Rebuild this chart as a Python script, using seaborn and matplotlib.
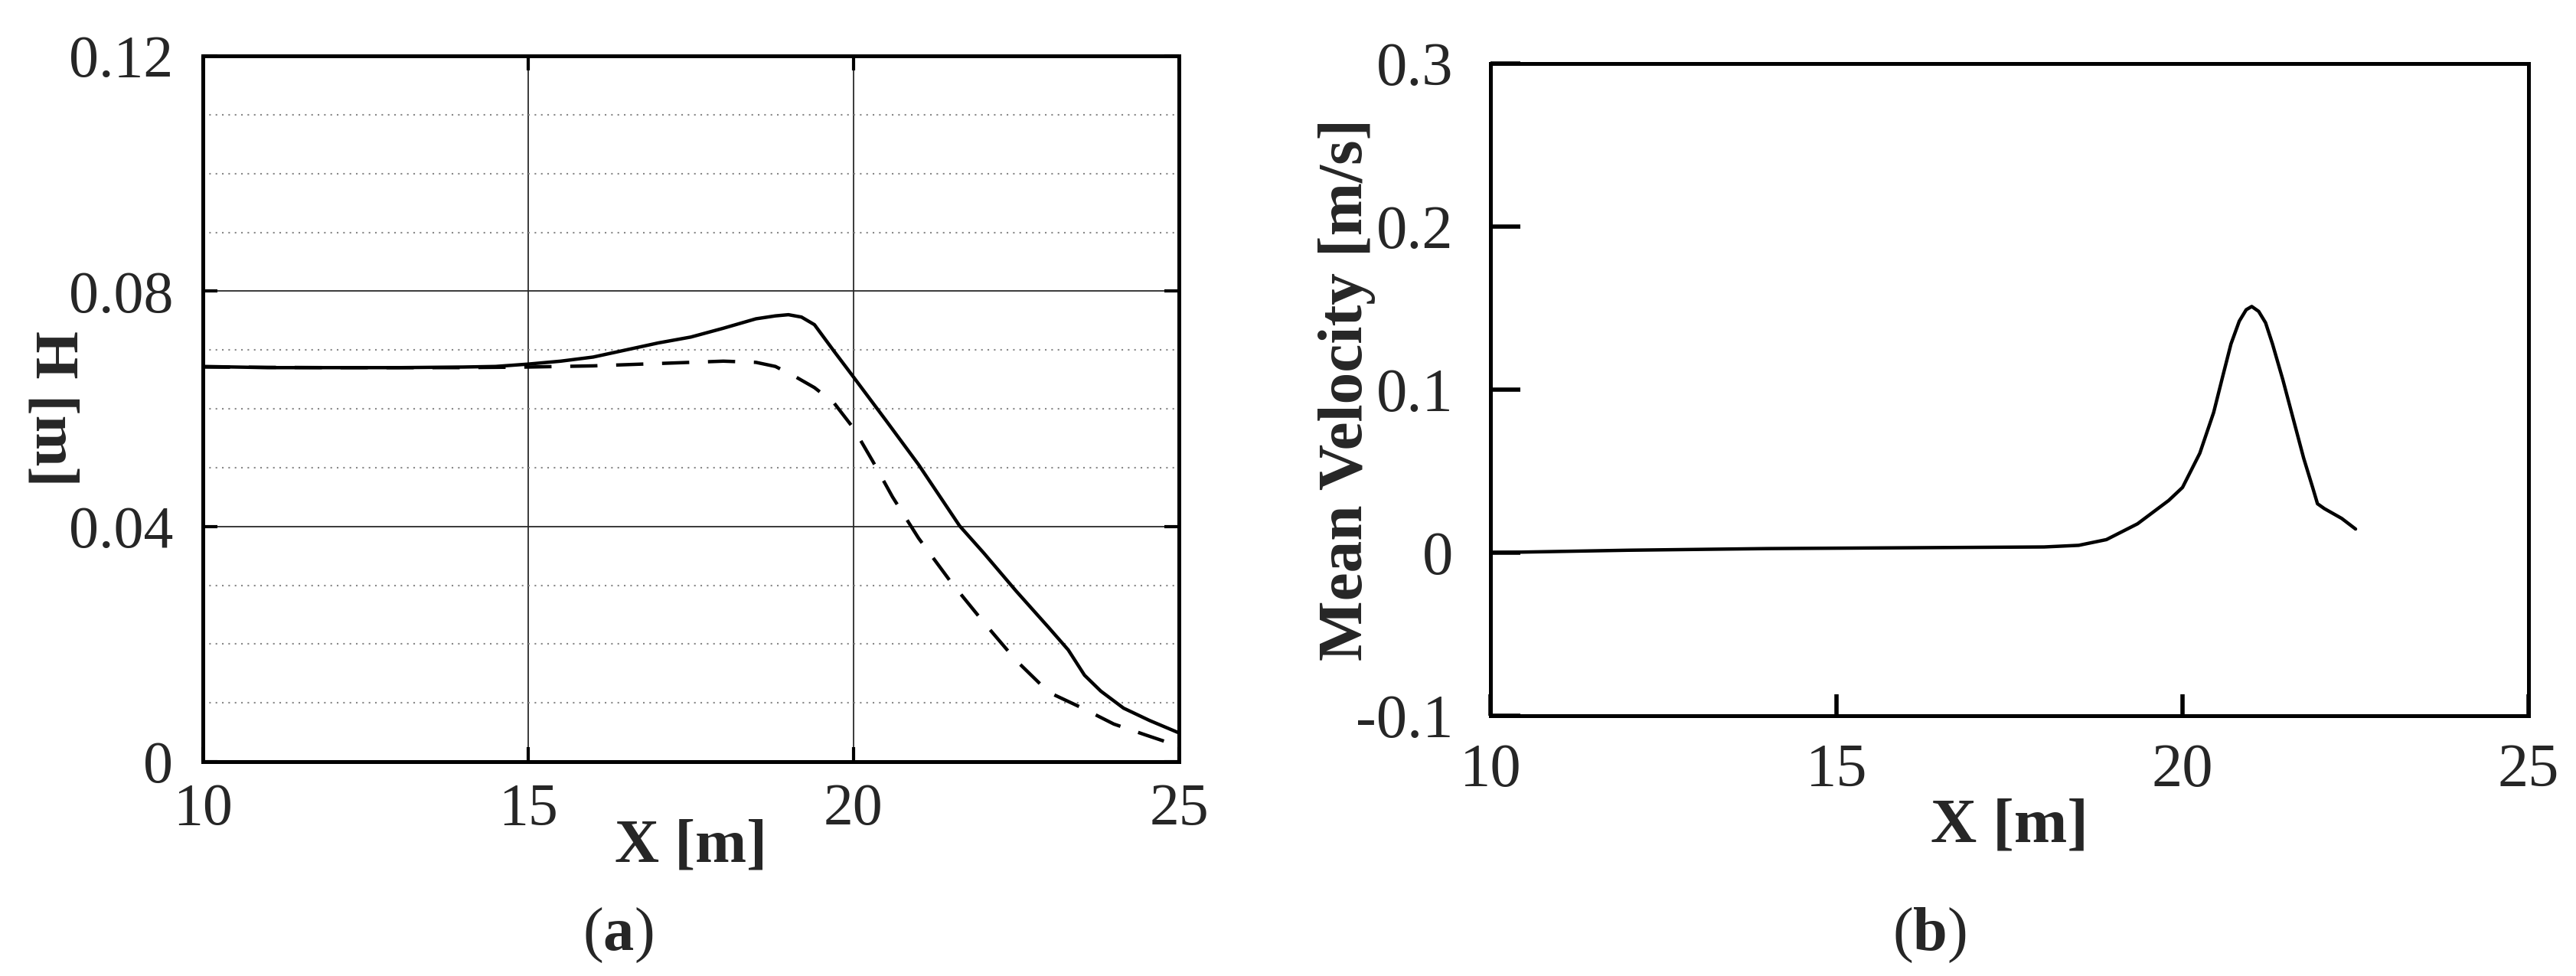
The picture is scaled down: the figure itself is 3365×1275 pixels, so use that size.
import numpy as np
import matplotlib
matplotlib.use("Agg")
import matplotlib.pyplot as plt
import seaborn as sns
from matplotlib.ticker import MultipleLocator

# ---- data ----
# (a) water depth H along the flume, solid and dashed curves
x_solid = [10, 11, 12, 13, 14, 14.5, 15, 15.5, 16, 16.5, 17, 17.5, 18, 18.5,
           18.8, 19.0, 19.2, 19.4, 19.7, 20.0, 20.5, 21.0, 21.63, 22.0, 22.5,
           23.0, 23.3, 23.55, 23.8, 24.15, 24.55, 25.0]
h_solid = [0.0672, 0.0670, 0.0670, 0.0670, 0.0671, 0.0672, 0.0676, 0.0681,
           0.0688, 0.0700, 0.0712, 0.0722, 0.0737, 0.0753, 0.0758, 0.0760,
           0.0756, 0.0743, 0.0698, 0.0654, 0.0580, 0.0505, 0.0401, 0.0355,
           0.0290, 0.0228, 0.0190, 0.0147, 0.0120, 0.0091, 0.0070, 0.0049]

x_dash = [10, 12, 14, 15, 16, 17, 18, 18.5, 18.8, 19.1, 19.4, 19.7, 20.0,
          20.3, 20.6, 21.0, 21.5, 22.0, 22.5, 23.0, 23.5, 24.0, 24.5, 24.85]
h_dash = [0.0671, 0.0670, 0.0670, 0.0671, 0.0673, 0.0677, 0.0681, 0.0679,
          0.0672, 0.0655, 0.0636, 0.0610, 0.0567, 0.0510, 0.0450, 0.0380,
          0.0305, 0.0237, 0.0172, 0.0118, 0.0092, 0.0064, 0.0045, 0.0032]

# (b) mean velocity
x_vel = [10, 12, 14, 16, 18, 18.5, 18.9, 19.35, 19.8, 20.0, 20.25, 20.45,
         20.58, 20.7, 20.82, 20.92, 21.0, 21.1, 21.2, 21.3, 21.45, 21.6,
         21.75, 21.88, 21.95, 22.05, 22.3, 22.5]
v_vel = [0.0, 0.0015, 0.0025, 0.003, 0.0035, 0.0045, 0.008, 0.0177, 0.032,
         0.040, 0.061, 0.086, 0.108, 0.128, 0.142, 0.149, 0.151, 0.148,
         0.141, 0.128, 0.106, 0.082, 0.058, 0.040, 0.030, 0.027, 0.021,
         0.0145]

xticks     = [10, 15, 20, 25]
h_ticks    = [0, 0.04, 0.08, 0.12]
h_ticklbl  = ["0", "0.04", "0.08", "0.12"]
v_ticks    = [-0.1, 0, 0.1, 0.2, 0.3]
v_ticklbl  = ["-0.1", "0", "0.1", "0.2", "0.3"]

sns.set_theme(style="white")
plt.rcParams["font.family"] = ["Liberation Serif", "DejaVu Serif"]
plt.rcParams["mathtext.fontset"] = "custom"
plt.rcParams["mathtext.rm"] = "Liberation Serif"
plt.rcParams["mathtext.bf"] = "Liberation Serif:bold"

fig = plt.figure(figsize=(33.66, 12.75), dpi=100)
fig.patch.set_facecolor("white")

ax1 = fig.add_axes([0.0787, 0.2196, 0.3788, 0.7231])
ax2 = fig.add_axes([0.5784, 0.2667, 0.4029, 0.6682])

# ---- panel (a) ----
sns.lineplot(x=x_solid, y=h_solid, ax=ax1, color="black", lw=3.2)
sns.lineplot(x=x_dash, y=h_dash, ax=ax1, color="black", lw=3.2,
             linestyle=(0, (8, 5.5)))
ax1.set_xlim(10, 25)
ax1.set_ylim(0, 0.12)
ax1.set_xticks(xticks)
ax1.set_xticklabels([str(t) for t in xticks])
ax1.set_yticks(h_ticks)
ax1.set_yticklabels(h_ticklbl)
ax1.yaxis.set_minor_locator(MultipleLocator(0.01))
ax1.grid(which="major", color="#2a2a2a", lw=1.3, ls="-")
ax1.grid(which="minor", axis="y", color="#888888", lw=1.5, ls=(0, (1, 3)))
ax1.set_axisbelow(True)
ax1.tick_params(which="major", direction="in", length=14, width=3,
                top=True, right=True, bottom=True, left=True, color="black")
ax1.tick_params(which="minor", length=0)
ax1.tick_params(axis="y", labelsize=56, pad=28)
ax1.tick_params(axis="x", labelsize=56, pad=20)
for s in ax1.spines.values():
    s.set_linewidth(3.6)
    s.set_color("black")
ax1.set_xlabel("X [m]", fontsize=58, fontweight="bold", va="top")
ax1.xaxis.set_label_coords(0.5, -0.081)
ax1.set_ylabel("H [m]", fontsize=58, fontweight="bold", rotation=-90,
               va="center", ha="center")
ax1.yaxis.set_label_coords(-0.155, 0.5)

# ---- panel (b) ----
sns.lineplot(x=x_vel, y=v_vel, ax=ax2, color="black", lw=3.2)
ax2.set_xlim(10, 25)
ax2.set_ylim(-0.1, 0.3)
ax2.set_xticks(xticks)
ax2.set_xticklabels([str(t) for t in xticks])
ax2.set_yticks(v_ticks)
ax2.set_yticklabels(v_ticklbl)
ax2.grid(False)
ax2.tick_params(axis="x", direction="in", length=20, width=4, labelsize=58,
                pad=26, bottom=True, top=False, color="black")
ax2.tick_params(axis="y", direction="in", length=28, width=4, labelsize=58,
                pad=35, left=True, right=False, color="black")
for s in ax2.spines.values():
    s.set_linewidth(3.6)
    s.set_color("black")
ax2.set_xlabel("X [m]", fontsize=60, fontweight="bold", va="top")
ax2.xaxis.set_label_coords(0.5, -0.126)
ax2.set_ylabel("Mean Velocity [m/s]", fontsize=60, fontweight="bold",
               va="center", ha="center")
ax2.yaxis.set_label_coords(-0.138, 0.5)

# panel letters
fig.text(0.2398, 0.0416, r"($\mathbf{a}$)", fontsize=58, ha="center", va="center")
fig.text(0.7487, 0.0416, r"($\mathbf{b}$)", fontsize=58, ha="center", va="center")

fig.savefig("out.png", dpi=100, facecolor="white")
